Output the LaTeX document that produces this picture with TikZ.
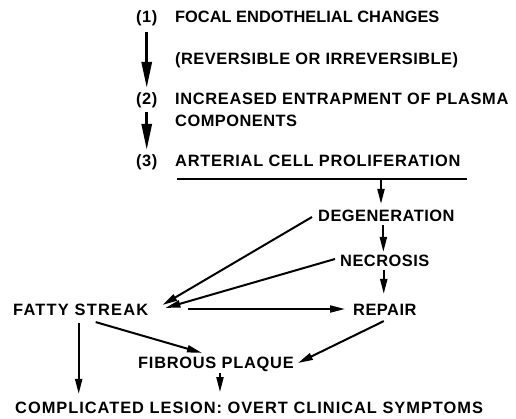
\documentclass[tikz,border=0pt]{standalone}
\usepackage{fontspec}
\setmainfont{Liberation Sans}
\usetikzlibrary{arrows.meta,calc}
\begin{document}
\begin{tikzpicture}[x=1pt,y=-1pt,
  lbl/.style={font=\bfseries\fontsize{16.4}{18}\selectfont\addfontfeatures{LetterSpace=3}, inner sep=0pt, anchor=west, text height=11.8pt, text depth=0pt},
  con/.style={line width=2pt, -{Triangle[length=15pt,width=7pt]}},
  bigcon/.style={line width=2.8pt, -{Triangle[length=26pt,width=10pt]}}]
\useasboundingbox (0,0) rectangle (516,419);
\node[lbl] (n1) at (136,17) {(1)};
\node[lbl, font=\bfseries\fontsize{16.4}{18}\selectfont] (t1) at (175,17) {FOCAL ENDOTHELIAL CHANGES};
\node[lbl] (t1b) at (175,59) {(REVERSIBLE OR IRREVERSIBLE)};
\node[lbl] (n2) at (136,99) {(2)};
\node[lbl, font=\bfseries\fontsize{16.4}{18}\selectfont\addfontfeatures{LetterSpace=4}] (t2) at (175,99) {INCREASED ENTRAPMENT OF PLASMA};
\node[lbl] (t2b) at (175,121) {COMPONENTS};
\node[lbl] (n3) at (136,161) {(3)};
\node[lbl, font=\bfseries\fontsize{16.4}{18}\selectfont\addfontfeatures{LetterSpace=4.5}] (t3) at (175,161) {ARTERIAL CELL PROLIFERATION};
\node[lbl] (deg) at (318,216) {DEGENERATION};
\node[lbl] (nec) at (340,261) {NECROSIS};
\node[lbl] (rep) at (353,310) {REPAIR};
\node[lbl, font=\bfseries\fontsize{16.4}{18}\selectfont\addfontfeatures{LetterSpace=7.5}] (fat) at (13,310) {FATTY STREAK};
\node[lbl, font=\bfseries\fontsize{16.4}{18}\selectfont\addfontfeatures{LetterSpace=4.5}] (fib) at (138,363) {FIBROUS PLAQUE};
\node[lbl, font=\bfseries\fontsize{16.4}{18}\selectfont\addfontfeatures{LetterSpace=6}] (comp) at (15,408) {COMPLICATED LESION: OVERT CLINICAL SYMPTOMS};
\coordinate (ul1) at (177,179);
\coordinate (ul2) at (467,179);
\coordinate (ulx) at (381,179);
\draw[line width=1.8pt] (ul1) -- (ul2);
\draw[bigcon] ($(n1.south)+(0,9)$) -- ($(n2.north)+(0,-5)$);
\draw[bigcon] ($(n2.south)+(0,7)$) -- ($(n3.north)+(0,-5)$);
\draw[con] (ulx) -- ($(ulx |- deg.north)+(0,-6)$);
\draw[con] ($(deg.south)+(-3,3)$) -- ($(deg.south |- nec.north)+(-3,-3)$);
\draw[con] ($(nec.south)+(-1,3)$) -- ($(nec.south |- rep.north)+(-1,-10)$);
\draw[con] ($(deg.west)+(-6,1)$) -- ($(fat.east)+(14,-5)$);
\draw[con] ($(nec.west)+(-5,-2)$) -- ($(fat.east)+(17,-2)$);
\draw[con] ($(fat.east)+(40,-1)$) -- ($(rep.west)+(-8,-1)$);
\draw[con] ($(fat.south)+(15,6)$) -- ($(fib.north)+(-14,-4)$);
\draw[con] ($(rep.south)+(-1,5)$) -- ($(fib.east)+(4,0)$);
\draw[con] ($(fib.south)+(4,4)$) -- ($(fib.south)+(4,23)$);
\draw[con] ($(fat.south)+(-2,7)$) -- ($(fat.south |- comp.north)+(-2,-8)$);
\end{tikzpicture}
\end{document}
